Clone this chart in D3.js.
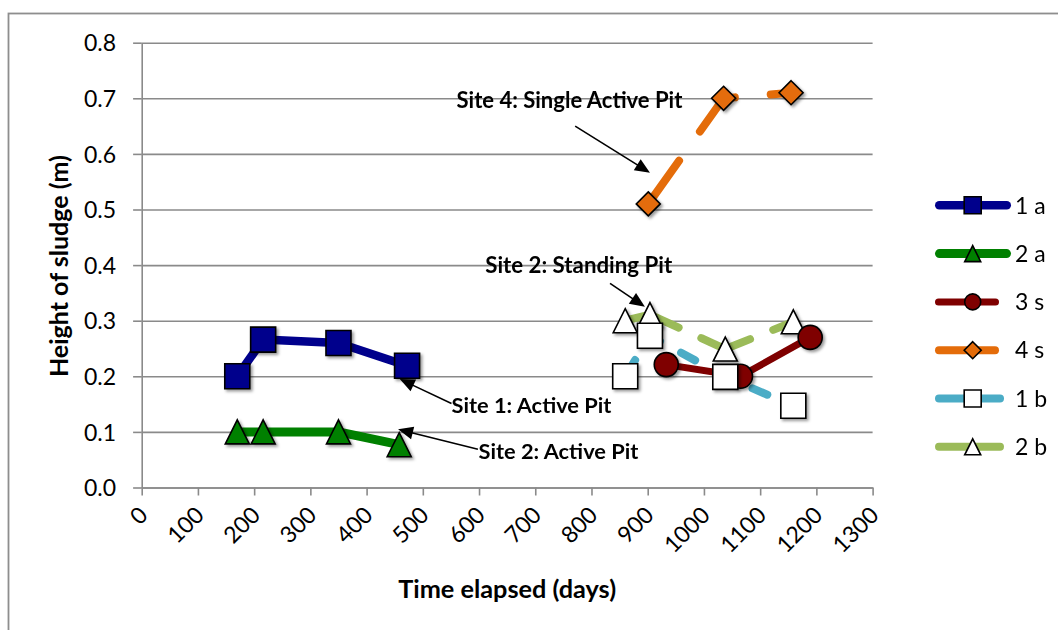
<!DOCTYPE html>
<html><head><meta charset="utf-8">
<script src="https://cdn.jsdelivr.net/npm/d3@7"></script>
<style>html,body{margin:0;padding:0;background:#fff;} svg{display:block;font-family:Lato,'Open Sans',sans-serif;}</style>
</head><body><svg id="c" width="1058" height="630"></svg>
<script>
// ---------------- data ----------------
const seriesNames = ["1 a", "2 a", "3 s", "4 s", "1 b", "2 b"];
const days_1a = [170, 216, 350, 472];
const sludge_1a = [0.200, 0.266, 0.260, 0.219];
const days_2a = [170, 216, 350, 458];
const sludge_2a = [0.100, 0.100, 0.100, 0.077];
const days_3s = [933, 1065, 1189];
const sludge_3s = [0.221, 0.200, 0.270];
const days_4s = [901, 1035, 1155];
const sludge_4s = [0.510, 0.700, 0.710];
const days_1b = [860, 904, 1038, 1159];
const sludge_1b = [0.200, 0.273, 0.199, 0.147];
const days_2b = [860, 904, 1038, 1159];
const sludge_2b = [0.300, 0.311, 0.249, 0.298];

const yTicks = [0, 0.1, 0.2, 0.3, 0.4, 0.5, 0.6, 0.7, 0.8];
const xTicks = [0, 100, 200, 300, 400, 500, 600, 700, 800, 900, 1000, 1100, 1200, 1300];
const xTitle = "Time elapsed (days)";
const yTitle = "Height of sludge (m)";

const annotText = ["Site 4: Single Active Pit", "Site 2: Standing Pit", "Site 1: Active Pit", "Site 2: Active Pit"];
const annotTextDay = [560, 611, 551, 599];
const annotTextVal = [0.682, 0.386, 0.1335, 0.0507];
const arrowFromDay = [771, 833, 551, 598];
const arrowFromVal = [0.650, 0.367, 0.151, 0.0687];
const arrowToDay = [904, 895, 459, 456];
const arrowToVal = [0.566, 0.325, 0.195, 0.1047];

// ---------------- styles ----------------
const styles = {
  "1 a": {color: "#00008C", fill: "#00008C", width: 8.5, dash: null, shape: "square", size: 25, leg: 17, legEnd: 1011},
  "2 a": {color: "#008000", fill: "#008000", width: 9, dash: null, shape: "triangle", size: 24, leg: 16, legEnd: 1011},
  "3 s": {color: "#7F0000", fill: "#7F0000", width: 7, dash: null, shape: "circle", size: 24, leg: 16, legEnd: 999},
  "4 s": {color: "#E46C0A", fill: "#E46C0A", width: 8, dash: "52,36", off: -1, shape: "diamond", size: 24, leg: 17, legEnd: 999},
  "1 b": {color: "#4BACC6", fill: "#FFFFFF", width: 8, dash: "16,24", off: -3, shape: "square", size: 25, leg: 17, legEnd: 1004},
  "2 b": {color: "#9BBB59", fill: "#FFFFFF", width: 8, dash: "53,25", off: -4, shape: "triangle", size: 24, leg: 16, legEnd: 1004}
};
const seriesData = {
  "1 a": [days_1a, sludge_1a], "2 a": [days_2a, sludge_2a], "3 s": [days_3s, sludge_3s],
  "4 s": [days_4s, sludge_4s], "1 b": [days_1b, sludge_1b], "2 b": [days_2b, sludge_2b]
};
const markerOrder = ["1 a", "2 a", "4 s", "2 b", "3 s", "1 b"];

const GRID = "#8A8A8A";
const svg = d3.select("#c");
const X0 = 141.7, X1 = 872.6, Y0 = 487.5, Y1 = 42.7;
const x = d3.scaleLinear().domain([0, 1300]).range([X0, X1]);
const y = d3.scaleLinear().domain([0, 0.8]).range([Y0, Y1]);

// shadow filter
const defs = svg.append("defs");
const f = defs.append("filter").attr("id", "sh").attr("x", "-50%").attr("y", "-50%").attr("width", "200%").attr("height", "200%");
f.append("feDropShadow").attr("dx", 2).attr("dy", 2).attr("stdDeviation", 1.6).attr("flood-color", "#000").attr("flood-opacity", 0.4);

// outer border
svg.append("rect").attr("x", 8.5).attr("y", 13.5).attr("width", 1200).attr("height", 800)
  .attr("fill", "none").attr("stroke", "#8E8E8E").attr("stroke-width", 1.8);

// grid
const grid = svg.append("g").attr("transform", `translate(${X0},0)`)
  .call(d3.axisLeft(y).tickValues(yTicks).tickSize(-(X1 - X0)).tickFormat(""));
grid.select(".domain").remove();
grid.selectAll("line").attr("stroke", GRID).attr("stroke-width", 1.6);

// y axis
const ya = svg.append("g").attr("transform", `translate(${X0},0)`)
  .call(d3.axisLeft(y).tickValues(yTicks).tickSize(8.6).tickSizeOuter(0).tickPadding(17).tickFormat(d3.format(".1f")));
ya.select(".domain").attr("stroke", GRID).attr("stroke-width", 1.6);
ya.selectAll("line").attr("stroke", GRID).attr("stroke-width", 1.6);
ya.selectAll("text").attr("font-size", 23).attr("fill", "#000").attr("dy", "0.36em").attr("font-family", "Lato");

// x axis
const xa = svg.append("g").attr("transform", `translate(0,${Y0})`)
  .call(d3.axisBottom(x).tickValues(xTicks).tickSize(8).tickSizeOuter(0).tickFormat(d3.format("d")));
xa.select(".domain").attr("stroke", GRID).attr("stroke-width", 1.6);
xa.selectAll("line").attr("stroke", GRID).attr("stroke-width", 1.6);
xa.selectAll("text").attr("font-size", 23).attr("fill", "#000").attr("font-family", "Lato")
  .attr("x", 0).attr("y", 0).attr("dy", 0).attr("text-anchor", "end")
  .attr("transform", "translate(7,29) rotate(-45)");

function fitText(sel, w) {
  const l = sel.node().getComputedTextLength();
  const fs = parseFloat(sel.attr("font-size"));
  sel.attr("font-size", fs * w / l);
}

// axis titles
const xt = svg.append("text").attr("x", (X0 + X1) / 2).attr("y", 598).attr("text-anchor", "middle")
  .attr("font-weight", "bold").attr("font-size", 24).text(xTitle);
fitText(xt, 218);
const yt = svg.append("text").attr("transform", `translate(68,${(Y0 + Y1) / 2 + 1}) rotate(-90)`).attr("text-anchor", "middle")
  .attr("font-weight", "bold").attr("font-size", 24).text(yTitle);
fitText(yt, 222);

// shapes
function shapePath(type, s) {
  const h = s / 2;
  if (type === "square") return `M${-h},${-h}H${h}V${h}H${-h}Z`;
  if (type === "triangle") return `M0,${-h}L${h},${h}L${-h},${h}Z`;
  if (type === "diamond") return `M0,${-h}L${h},0L0,${h}L${-h},0Z`;
  return `M${h},0A${h},${h} 0 1,1 ${-h},0A${h},${h} 0 1,1 ${h},0Z`;
}

// lines
const line = d3.line().x(d => x(d[0])).y(d => y(d[1]));
seriesNames.forEach(n => {
  const st = styles[n];
  const pts = d3.zip(seriesData[n][0], seriesData[n][1]);
  const p = svg.append("path").datum(pts).attr("d", line).attr("fill", "none")
    .attr("stroke", st.color).attr("stroke-width", st.width)
    .attr("stroke-linecap", "round").attr("stroke-linejoin", "round");
  if (st.dash) p.attr("stroke-dasharray", st.dash).attr("stroke-dashoffset", st.off);
});

// markers
markerOrder.forEach(n => {
  const st = styles[n];
  const pts = d3.zip(seriesData[n][0], seriesData[n][1]);
  svg.append("g").attr("filter", "url(#sh)").selectAll("path").data(pts).join("path")
    .attr("transform", d => `translate(${x(d[0])},${y(d[1])})`)
    .attr("d", shapePath(st.shape, st.size))
    .attr("fill", st.fill).attr("stroke", "#000").attr("stroke-width", 1.6).attr("stroke-linejoin", "miter");
});

// annotations
annotText.forEach((t, i) => {
  const tx = svg.append("text").attr("x", x(annotTextDay[i])).attr("y", y(annotTextVal[i]))
    .attr("font-weight", "bold").attr("font-size", 24).attr("fill", "#000").text(t);
  const targetW = [226, 187, 160, 160][i];
  fitText(tx, targetW);
  const x1 = x(arrowFromDay[i]), y1 = y(arrowFromVal[i]);
  const x2 = x(arrowToDay[i]), y2 = y(arrowToVal[i]);
  const dx = x2 - x1, dy = y2 - y1, L = Math.hypot(dx, dy);
  const ux = dx / L, uy = dy / L;
  const hl = 15, hw = 6.5;
  svg.append("line").attr("x1", x1).attr("y1", y1).attr("x2", x2 - ux * (hl - 2)).attr("y2", y2 - uy * (hl - 2))
    .attr("stroke", "#000").attr("stroke-width", 1.6);
  const bx = x2 - ux * hl, by = y2 - uy * hl;
  svg.append("path").attr("d", `M${x2},${y2}L${bx - uy * hw},${by + ux * hw}L${bx + uy * hw},${by - ux * hw}Z`)
    .attr("fill", "#000");
});

// legend
const legX0 = 935, legMX = 972.7, legTX = 1015, legY0 = 205.3, legStep = 48.3;
seriesNames.forEach((n, i) => {
  const st = styles[n];
  const ly = legY0 + i * legStep;
  const g = svg.append("g");
  g.append("line").attr("x1", legX0 + st.width / 2).attr("x2", st.legEnd - st.width / 2)
    .attr("y1", ly).attr("y2", ly).attr("stroke", st.color).attr("stroke-width", st.width).attr("stroke-linecap", "round");
  g.append("path").attr("transform", `translate(${legMX},${ly})`).attr("d", shapePath(st.shape, st.leg))
    .attr("fill", st.fill).attr("stroke", "#000").attr("stroke-width", 1.6);
  g.append("text").attr("x", legTX).attr("y", ly).attr("dy", "0.36em").attr("font-size", 23).attr("fill", "#000").text(n);
});
</script></body></html>
